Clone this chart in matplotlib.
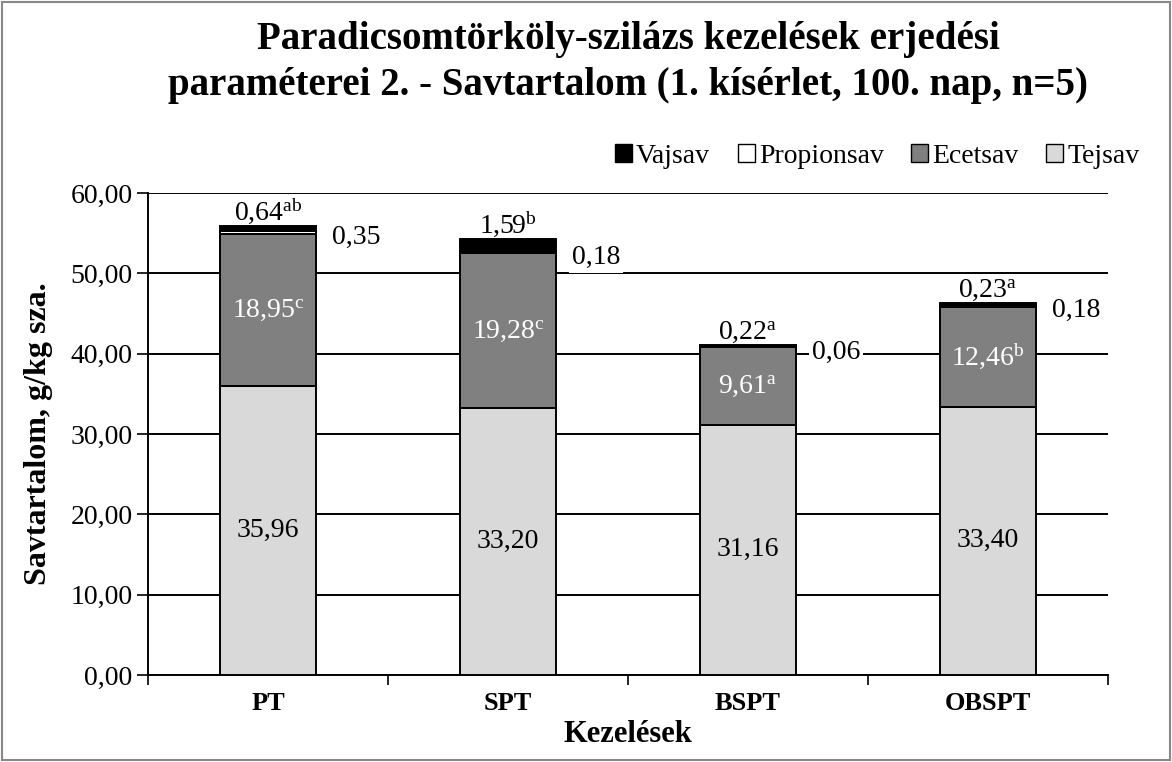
import matplotlib
matplotlib.use("Agg")
import matplotlib.pyplot as plt
from matplotlib.patches import Rectangle, Patch

plt.rcParams['font.family'] = ['Liberation Serif', 'DejaVu Serif']
plt.rcParams['mathtext.fontset'] = 'custom'
plt.rcParams['mathtext.rm'] = 'Liberation Serif'
plt.rcParams['mathtext.default'] = 'rm'

categories = ['PT', 'SPT', 'BSPT', 'OBSPT']
tejsav = [35.96, 33.20, 31.16, 33.40]
ecetsav = [18.95, 19.28, 9.61, 12.46]
propionsav = [0.35, 0.18, 0.06, 0.18]
vajsav = [0.64, 1.59, 0.22, 0.23]
ecet_letters = ['c', 'c', 'a', 'b']
vaj_letters = ['ab', 'b', 'a', 'a']
yticks = [0, 10, 20, 30, 40, 50, 60]

def fmt(v):
    return f"{v:.2f}".replace('.', ',')

fig = plt.figure(figsize=(11.72, 7.62), dpi=100)
fig.patches.append(Rectangle((0.002, 0.002), 0.996, 0.996, transform=fig.transFigure,
                             fill=False, edgecolor='#888888', linewidth=1.5))
ax = fig.add_axes([0.1263, 0.1142, 0.8191, 0.6325])

x = list(range(len(categories)))
w = 0.4
lw = 1.4
ax.bar(x, tejsav, w, color='#D9D9D9', edgecolor='black', linewidth=lw, zorder=3)
bot2 = tejsav
ax.bar(x, ecetsav, w, bottom=bot2, color='#808080', edgecolor='black', linewidth=lw, zorder=3)
bot3 = [a + b for a, b in zip(tejsav, ecetsav)]
ax.bar(x, propionsav, w, bottom=bot3, color='white', edgecolor='black', linewidth=lw, zorder=3)
bot4 = [a + b for a, b in zip(bot3, propionsav)]
ax.bar(x, vajsav, w, bottom=bot4, color='black', edgecolor='black', linewidth=lw, zorder=3)

fs = 20
for i in x:
    ax.text(i, tejsav[i] / 2, fmt(tejsav[i]), ha='center', va='center', fontsize=fs, color='black', zorder=5)
    ax.text(i, tejsav[i] + ecetsav[i] / 2, fmt(ecetsav[i]) + r'$^{\mathrm{' + ecet_letters[i] + '}}$',
            ha='center', va='center', fontsize=fs, color='white', zorder=5)
    ax.text(i + w / 2 + 0.065, bot3[i] + propionsav[i] / 2 - 0.6, fmt(propionsav[i]), ha='left', va='center',
            fontsize=fs, color='black', zorder=5,
            bbox=dict(facecolor='white', edgecolor='none', pad=2))
    top = bot4[i] + vajsav[i]
    ax.text(i, top + 0.8, fmt(vajsav[i]) + r'$^{\mathrm{' + vaj_letters[i] + '}}$', ha='center', va='baseline',
            fontsize=fs, color='black', zorder=5)

ax.set_xlim(-0.5, len(categories) - 0.5)
ax.set_ylim(0, 60)
ax.set_yticks(yticks)
ax.set_yticklabels([fmt(v) for v in yticks], fontsize=fs)
ax.yaxis.grid(True, color='black', linewidth=1.4, zorder=0)
ax.set_axisbelow(True)
ax.set_xticks(x)
ax.set_xticklabels(categories, fontsize=19, fontweight='bold')
ax.tick_params(axis='x', length=0, pad=12)
ax.set_xticks([i - 0.5 for i in range(len(categories) + 1)], minor=True)
ax.tick_params(axis='x', which='minor', length=7, direction='out', width=1.2)
ax.tick_params(axis='y', length=8, direction='out', pad=3, width=1.2)
for s in ['top', 'right']:
    ax.spines[s].set_visible(False)
ax.spines['left'].set_linewidth(1.4)
ax.spines['bottom'].set_linewidth(1.4)

ax.set_ylabel('Savtartalom, g/kg sza.', fontsize=23, fontweight='bold')
ax.yaxis.set_label_coords(-0.099, 0.5)
ax.set_xlabel('Kezelések', fontsize=22, fontweight='bold')
ax.xaxis.set_label_coords(0.5, -0.093)

fig.text(0.536, 0.918, 'Paradicsomtörköly-szilázs kezelések erjedési\nparaméterei 2. - Savtartalom (1. kísérlet, 100. nap, n=5)',
         ha='center', va='center', fontsize=28, fontweight='bold', linespacing=1.3)

handles = [Patch(facecolor='black', edgecolor='black'),
           Patch(facecolor='white', edgecolor='black'),
           Patch(facecolor='#808080', edgecolor='black'),
           Patch(facecolor='#D9D9D9', edgecolor='black')]
fig.legend(handles, ['Vajsav', 'Propionsav', 'Ecetsav', 'Tejsav'], loc='center right',
           bbox_to_anchor=(0.972, 0.795), ncol=4, frameon=False, fontsize=fs,
           handlelength=0.6, handleheight=0.6, handletextpad=0.15, columnspacing=1.0,
           borderpad=0, borderaxespad=0)

fig.savefig('out.png', dpi=100)
